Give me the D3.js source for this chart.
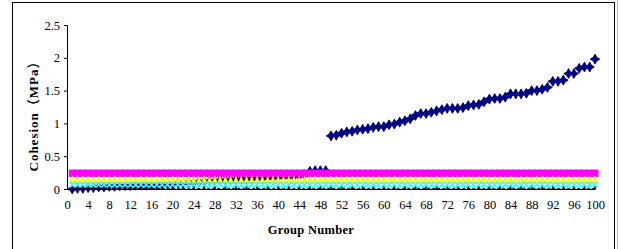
<!DOCTYPE html>
<html>
<head>
<meta charset="utf-8">
<script src="https://cdn.jsdelivr.net/npm/d3@7"></script>
<style>
  body { margin: 0; background: #fff; }
  text { font-family: 'Liberation Serif', 'Noto Sans CJK SC', serif; }
</style>
</head>
<body>
<div id="chart"></div>
<script>
// group numbers 1..100
var groups = [
  1, 2, 3, 4, 5, 6, 7, 8, 9, 10, 11, 12, 13, 14, 15, 16, 17, 18, 19, 20,
  21, 22, 23, 24, 25, 26, 27, 28, 29, 30, 31, 32, 33, 34, 35, 36, 37, 38, 39, 40,
  41, 42, 43, 44, 45, 46, 47, 48, 49, 50, 51, 52, 53, 54, 55, 56, 57, 58, 59, 60,
  61, 62, 63, 64, 65, 66, 67, 68, 69, 70, 71, 72, 73, 74, 75, 76, 77, 78, 79, 80,
  81, 82, 83, 84, 85, 86, 87, 88, 89, 90, 91, 92, 93, 94, 95, 96, 97, 98, 99, 100
]

// measured cohesion (navy diamonds)
var cohesion = [
  0.00, 0.01, 0.01, 0.02, 0.02, 0.03, 0.03, 0.04, 0.04, 0.05, 0.05, 0.05, 0.06, 0.06, 0.06, 0.07, 0.07, 0.07, 0.08, 0.08,
  0.09, 0.09, 0.10, 0.10, 0.11, 0.11, 0.12, 0.12, 0.13, 0.13, 0.14, 0.14, 0.15, 0.15, 0.15, 0.16, 0.16, 0.17, 0.17, 0.18,
  0.18, 0.19, 0.19, 0.20, 0.22, 0.27, 0.28, 0.28, 0.28, 0.81, 0.82, 0.85, 0.87, 0.88, 0.90, 0.91, 0.92, 0.94, 0.95, 0.95,
  0.98, 0.99, 1.02, 1.04, 1.07, 1.12, 1.15, 1.15, 1.17, 1.19, 1.21, 1.23, 1.23, 1.23, 1.24, 1.27, 1.28, 1.29, 1.33, 1.37,
  1.38, 1.38, 1.40, 1.45, 1.45, 1.45, 1.46, 1.50, 1.50, 1.52, 1.55, 1.64, 1.64, 1.66, 1.76, 1.76, 1.84, 1.86, 1.86, 1.98
]

// reference levels (magenta squares, yellow triangles, cyan crosses, black dashes)
var levelMagenta = [
  0.24, 0.24, 0.24, 0.24, 0.24, 0.24, 0.24, 0.24, 0.24, 0.24, 0.24, 0.24, 0.24, 0.24, 0.24, 0.24, 0.24, 0.24, 0.24, 0.24,
  0.24, 0.24, 0.24, 0.24, 0.24, 0.24, 0.24, 0.24, 0.24, 0.24, 0.24, 0.24, 0.24, 0.24, 0.24, 0.24, 0.24, 0.24, 0.24, 0.24,
  0.24, 0.24, 0.24, 0.24, 0.24, 0.24, 0.24, 0.24, 0.24, 0.24, 0.24, 0.24, 0.24, 0.24, 0.24, 0.24, 0.24, 0.24, 0.24, 0.24,
  0.24, 0.24, 0.24, 0.24, 0.24, 0.24, 0.24, 0.24, 0.24, 0.24, 0.24, 0.24, 0.24, 0.24, 0.24, 0.24, 0.24, 0.24, 0.24, 0.24,
  0.24, 0.24, 0.24, 0.24, 0.24, 0.24, 0.24, 0.24, 0.24, 0.24, 0.24, 0.24, 0.24, 0.24, 0.24, 0.24, 0.24, 0.24, 0.24, 0.24
]
var levelYellow = [
  0.14, 0.14, 0.14, 0.14, 0.14, 0.14, 0.14, 0.14, 0.14, 0.14, 0.14, 0.14, 0.14, 0.14, 0.14, 0.14, 0.14, 0.14, 0.14, 0.14,
  0.14, 0.14, 0.14, 0.14, 0.14, 0.14, 0.14, 0.14, 0.14, 0.14, 0.14, 0.14, 0.14, 0.14, 0.14, 0.14, 0.14, 0.14, 0.14, 0.14,
  0.14, 0.14, 0.14, 0.14, 0.14, 0.14, 0.14, 0.14, 0.14, 0.14, 0.14, 0.14, 0.14, 0.14, 0.14, 0.14, 0.14, 0.14, 0.14, 0.14,
  0.14, 0.14, 0.14, 0.14, 0.14, 0.14, 0.14, 0.14, 0.14, 0.14, 0.14, 0.14, 0.14, 0.14, 0.14, 0.14, 0.14, 0.14, 0.14, 0.14,
  0.14, 0.14, 0.14, 0.14, 0.14, 0.14, 0.14, 0.14, 0.14, 0.14, 0.14, 0.14, 0.14, 0.14, 0.14, 0.14, 0.14, 0.14, 0.14, 0.14
]
var levelCyan = [
  0.065, 0.065, 0.065, 0.065, 0.065, 0.065, 0.065, 0.065, 0.065, 0.065, 0.065, 0.065, 0.065, 0.065, 0.065, 0.065, 0.065, 0.065, 0.065, 0.065,
  0.065, 0.065, 0.065, 0.065, 0.065, 0.065, 0.065, 0.065, 0.065, 0.065, 0.065, 0.065, 0.065, 0.065, 0.065, 0.065, 0.065, 0.065, 0.065, 0.065,
  0.065, 0.065, 0.065, 0.065, 0.065, 0.065, 0.065, 0.065, 0.065, 0.065, 0.065, 0.065, 0.065, 0.065, 0.065, 0.065, 0.065, 0.065, 0.065, 0.065,
  0.065, 0.065, 0.065, 0.065, 0.065, 0.065, 0.065, 0.065, 0.065, 0.065, 0.065, 0.065, 0.065, 0.065, 0.065, 0.065, 0.065, 0.065, 0.065, 0.065,
  0.065, 0.065, 0.065, 0.065, 0.065, 0.065, 0.065, 0.065, 0.065, 0.065, 0.065, 0.065, 0.065, 0.065, 0.065, 0.065, 0.065, 0.065, 0.065, 0.065
]
var levelBlack = [
  0.01, 0.01, 0.01, 0.01, 0.01, 0.01, 0.01, 0.01, 0.01, 0.01, 0.01, 0.01, 0.01, 0.01, 0.01, 0.01, 0.01, 0.01, 0.01, 0.01,
  0.01, 0.01, 0.01, 0.01, 0.01, 0.01, 0.01, 0.01, 0.01, 0.01, 0.01, 0.01, 0.01, 0.01, 0.01, 0.01, 0.01, 0.01, 0.01, 0.01,
  0.01, 0.01, 0.01, 0.01, 0.01, 0.01, 0.01, 0.01, 0.01, 0.01, 0.01, 0.01, 0.01, 0.01, 0.01, 0.01, 0.01, 0.01, 0.01, 0.01,
  0.01, 0.01, 0.01, 0.01, 0.01, 0.01, 0.01, 0.01, 0.01, 0.01, 0.01, 0.01, 0.01, 0.01, 0.01, 0.01, 0.01, 0.01, 0.01, 0.01,
  0.01, 0.01, 0.01, 0.01, 0.01, 0.01, 0.01, 0.01, 0.01, 0.01, 0.01, 0.01, 0.01, 0.01, 0.01, 0.01, 0.01, 0.01, 0.01, 0.01
]

var xTicks = [0, 4, 8, 12, 16, 20, 24, 28, 32, 36, 40, 44, 48, 52, 56, 60, 64, 68, 72, 76, 80, 84, 88, 92, 96, 100]
var yTicks = [0, 0.5, 1, 1.5, 2, 2.5]

var margin = { top: 25, left: 67, right: 27, bottom: 60 }
var width = 622 - margin.left - margin.right
var height = 249 - margin.top - margin.bottom

var root = d3
  .select('#chart')
  .append('svg')
  .attr('width', 622)
  .attr('height', 249)

// outer frame
root
  .append('rect')
  .attr('x', 12.5)
  .attr('y', 2.5)
  .attr('width', 602)
  .attr('height', 270)
  .attr('fill', 'none')
  .attr('stroke', '#000')
root
  .append('line')
  .attr('x1', 617.5)
  .attr('x2', 617.5)
  .attr('y1', 0)
  .attr('y2', 249)
  .attr('stroke', '#bbb')

var svg = root
  .append('g')
  .attr('transform', 'translate(' + margin.left + ',' + margin.top + ')')

var xScale = d3.scaleLinear().domain([0, 100]).range([0, width])
var yScale = d3.scaleLinear().domain([0, 2.5]).range([height, 0])

function rows(values) {
  return groups.map((g, i) => ({ g: g, v: values[i] }))
}

// axes
var yAxis = d3
  .axisLeft(yScale)
  .tickValues(yTicks)
  .tickSize(3)
  .tickPadding(4)
  .tickFormat(d => d)
svg
  .append('g')
  .attr('class', 'y-axis')
  .call(yAxis)

var xAxis = d3
  .axisBottom(xScale)
  .tickValues(xTicks)
  .tickSize(0)
  .tickPadding(11)
svg
  .append('g')
  .attr('class', 'x-axis')
  .attr('transform', 'translate(0,' + height + ')')
  .call(xAxis)
svg.selectAll('.x-axis text, .y-axis text')
  .attr('font-size', 12.5)
  .attr('fill', '#000')
  .attr('font-family', "'Liberation Serif', serif")
svg.selectAll('.x-axis path, .y-axis path, .y-axis line').attr('stroke', '#000')

// navy cohesion diamonds (drawn first, the level bands cover them)
svg
  .selectAll('.cohesion')
  .data(rows(cohesion))
  .enter()
  .append('path')
  .attr('class', 'cohesion')
  .attr('transform', d => 'translate(' + xScale(d.g) + ',' + yScale(d.v) + ')')
  .attr('d', 'M0,-4.5L1.6,-1.6L4.3,0L1.6,1.6L0,4.5L-1.6,1.6L-4.3,0L-1.6,-1.6Z')
  .attr('fill', '#000080')
  .attr('stroke', '#000080')
  .attr('stroke-width', 1.3)
  .attr('stroke-linejoin', 'round')

// magenta squares
svg
  .selectAll('.magenta')
  .data(rows(levelMagenta))
  .enter()
  .append('rect')
  .attr('class', 'magenta')
  .attr('x', d => xScale(d.g) - 3.5)
  .attr('y', d => yScale(d.v) - 3.7)
  .attr('width', 7)
  .attr('height', 7.4)
  .attr('fill', '#ff00ff')

// yellow triangles
svg
  .selectAll('.yellow')
  .data(rows(levelYellow))
  .enter()
  .append('path')
  .attr('class', 'yellow')
  .attr('transform', d => 'translate(' + xScale(d.g) + ',' + yScale(d.v) + ')')
  .attr('d', 'M0,-4L2.6,3L-2.6,3Z')
  .attr('fill', '#ffff00')
  .attr('stroke', '#e6e600')
  .attr('stroke-width', 0.5)

// cyan crosses
svg
  .selectAll('.cyan')
  .data(rows(levelCyan))
  .enter()
  .append('path')
  .attr('class', 'cyan')
  .attr('transform', d => 'translate(' + xScale(d.g) + ',' + yScale(d.v) + ')')
  .attr('d', 'M-2.6,-2.6L2.6,2.6M-2.6,2.6L2.6,-2.6')
  .attr('stroke', '#33ffff')
  .attr('stroke-width', 1.6)
  .attr('fill', 'none')

// black dashed level
var line = d3
  .line()
  .x(d => xScale(d.g))
  .y(d => yScale(d.v))
svg
  .append('path')
  .datum(rows(levelBlack))
  .attr('d', line)
  .attr('fill', 'none')
  .attr('stroke', '#000')
  .attr('stroke-width', 1)
  .attr('stroke-dasharray', '3,2')
svg
  .selectAll('.black')
  .data(rows(levelBlack).filter(d => d.g % 2 === 0))
  .enter()
  .append('path')
  .attr('class', 'black')
  .attr('transform', d => 'translate(' + xScale(d.g) + ',' + yScale(d.v) + ')')
  .attr('d', 'M0,-2.5L1.5,0.5L-1.5,0.5Z')
  .attr('fill', '#000')

// axis titles
svg
  .append('text')
  .attr('x', width / 2 - 20)
  .attr('y', height + 45)
  .attr('text-anchor', 'middle')
  .attr('font-size', 12.5)
  .attr('font-weight', 700)
  .attr('letter-spacing', 0.3)
  .text('Group Number')

svg
  .append('text')
  .attr('transform', 'translate(-29,' + 88 + ') rotate(-90)')
  .attr('text-anchor', 'middle')
  .attr('font-size', 13)
  .attr('font-weight', 700)
  .attr('letter-spacing', 1)
  .text('Cohesion（MPa）')
</script>
</body>
</html>
